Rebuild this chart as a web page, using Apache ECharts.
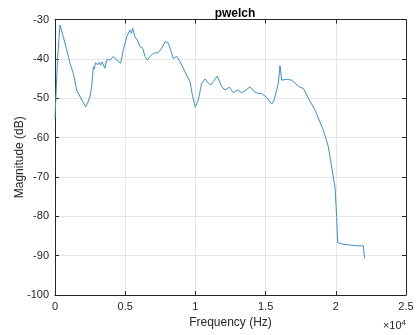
<!DOCTYPE html>
<html><head><meta charset="utf-8">
<script src="https://cdn.jsdelivr.net/npm/echarts@6/dist/echarts.min.js"></script>
<style>html,body{margin:0;padding:0;background:#fff}#c{width:417px;height:335px}</style>
</head><body><div id="c"></div>
<script>
const freqHz = [0,180,356,593,831,1068,1306,1543,1780,2000,2184,2350,2493,2611,2730,2800,2880,2968,3050,3150,3250,3350,3450,3561,3680,3799,3950,4154,4300,4392,4500,4677,4867,5105,5342,5450,5532,5600,5698,5863,6054,6244,6410,6576,6766,7001,7358,7600,7835,8070,8250,8426,8665,8903,9259,9615,9807,9993,10206,10446,10684,10918,11111,11275,11560,11873,12108,12415,12699,12985,13298,13536,13889,14174,14482,14719,15077,15432,15598,15788,15906,16026,16145,16502,16856,17094,17450,17687,17806,18042,18519,19111,19467,19777,19943,20062,20133,20535,21485,21959,22050];
const magDb = [-55,-40,-31.4,-34.4,-37.7,-41.1,-43.7,-47.9,-49.6,-51,-52.2,-51,-49.6,-47.1,-42.0,-42.6,-41.0,-40.7,-41.5,-40.9,-41.6,-40.8,-41.3,-42.4,-40.2,-39.9,-40.2,-39.4,-40.0,-40.3,-40.6,-41.1,-37.7,-34.4,-32.7,-33.5,-32.2,-33.2,-34.4,-35.2,-36.9,-37.3,-39.4,-40.3,-39.4,-38.6,-38.4,-37.3,-35.6,-36.0,-38.0,-39.9,-39.4,-40.7,-43.3,-45.8,-49.6,-52.3,-50.5,-46.2,-45.1,-46.2,-46.6,-45.8,-44.4,-47.1,-47.9,-47.2,-48.6,-47.9,-48.6,-48.1,-47.1,-48.3,-48.8,-48.8,-49.8,-51.5,-50.5,-47.9,-46.2,-41.7,-45.4,-45.2,-45.4,-46.2,-47.2,-47.5,-47.5,-50.0,-53.0,-58.1,-62.3,-69.1,-72.5,-80.1,-86.7,-87.1,-87.5,-87.5,-90.7];
const xTicks = [0,5000,10000,15000,20000,25000];
const yTicks = [-100,-90,-80,-70,-60,-50,-40,-30];

const data = freqHz.map((f,i)=>[f,magDb[i]]);
const chart = echarts.init(document.getElementById('c'));
const font = 'Liberation Sans, Arial, sans-serif';
const axCol = '#262626';
const gridCol = '#e6e6e6';
const baseX = {type:'value',min:xTicks[0],max:xTicks[xTicks.length-1],interval:5000,
  axisLine:{show:true,onZero:false,lineStyle:{color:axCol,width:1}},
  axisTick:{show:true,inside:true,length:4,lineStyle:{color:axCol}},
  splitLine:{show:false}};
const baseY = {type:'value',min:yTicks[0],max:yTicks[yTicks.length-1],interval:10,
  axisLine:{show:true,onZero:false,lineStyle:{color:axCol,width:1}},
  axisTick:{show:true,inside:true,length:4,lineStyle:{color:axCol}},
  splitLine:{show:false}};
chart.setOption({
  animation:false,
  backgroundColor:'#fff',
  title:{text:'pwelch',left:230,top:3,textAlign:'center',
    textStyle:{fontFamily:font,fontSize:12,fontWeight:'bold',color:'#000'}},
  grid:{left:55,right:11,top:19.5,bottom:40,containLabel:false,outerBoundsMode:'none'},
  xAxis:[
    Object.assign({},baseX,{position:'bottom',
      splitLine:{show:true,lineStyle:{color:gridCol,width:1}},
      axisLabel:{show:true,color:axCol,fontFamily:font,fontSize:11,margin:6,
        formatter:v=>String(v/10000)},
      name:'Frequency (Hz)',nameLocation:'middle',nameGap:22,nameMoveOverlap:false,
      nameTextStyle:{color:axCol,fontFamily:font,fontSize:12}}),
    Object.assign({},baseX,{position:'top',axisLabel:{show:false}})
  ],
  yAxis:[
    Object.assign({},baseY,{position:'left',
      splitLine:{show:true,lineStyle:{color:gridCol,width:1}},
      axisLabel:{show:true,color:axCol,fontFamily:font,fontSize:11,margin:6},
      name:'Magnitude (dB)',nameLocation:'middle',nameGap:29,nameMoveOverlap:false,
      nameTextStyle:{color:axCol,fontFamily:font,fontSize:12}}),
    Object.assign({},baseY,{position:'right',axisLabel:{show:false}})
  ],
  graphic:[{type:'text',right:11,top:319,
    style:{text:'×10{s|4}',fill:axCol,font:'11px '+font,
      rich:{s:{fontSize:8,verticalAlign:'top',padding:[0,0,6,0],fill:axCol,fontFamily:font}}}}],
  series:[{type:'line',data:data,xAxisIndex:0,yAxisIndex:0,showSymbol:false,smooth:false,
    lineStyle:{color:'#3d8fd1',width:1}}]
});
</script></body></html>
